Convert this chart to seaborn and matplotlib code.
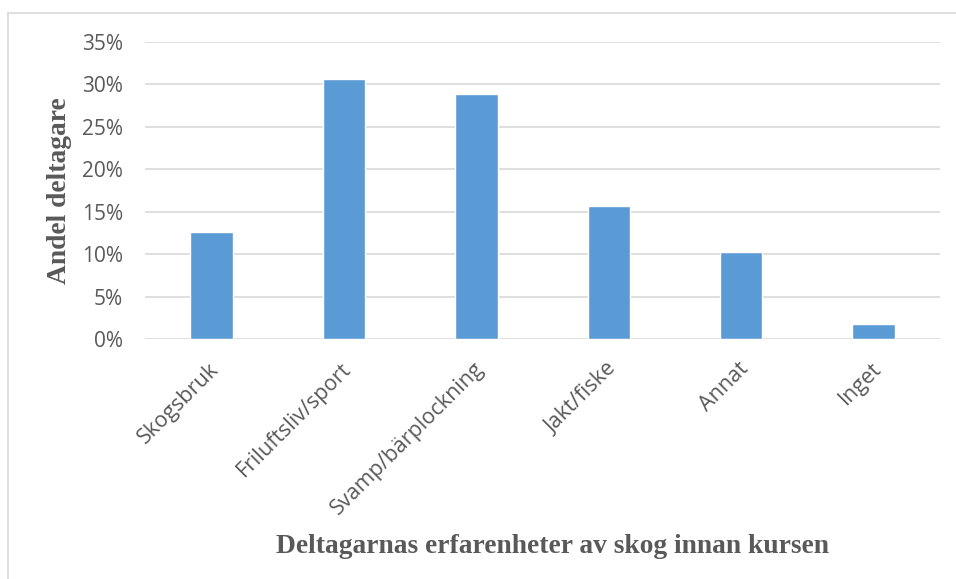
import pandas as pd
import matplotlib.pyplot as plt
import matplotlib.transforms as mtransforms
import seaborn as sns
from matplotlib.patches import Rectangle
from matplotlib.ticker import PercentFormatter

# data
kategorier = ['Skogsbruk', 'Friluftsliv/sport', 'Svamp/bärplockning',
              'Jakt/fiske', 'Annat', 'Inget']
andel = [0.126, 0.306, 0.289, 0.157, 0.102, 0.018]
y_ticks = [0, 0.05, 0.10, 0.15, 0.20, 0.25, 0.30, 0.35]

df = pd.DataFrame({'kategori': kategorier, 'andel': andel})

sns.set_style('white')
plt.rcParams['font.family'] = ['Open Sans', 'DejaVu Sans']

fig = plt.figure(figsize=(9.56, 5.79), dpi=100)
ax = fig.add_axes([0.152, 0.4145, 0.831, 0.513])

sns.barplot(data=df, x='kategori', y='andel', color='#5B9BD5',
            width=0.32, saturation=1, ax=ax, zorder=3)

ax.set_ylim(0, 0.35)
ax.set_xlim(-0.5, 5.5)
ax.set_yticks(y_ticks)
ax.yaxis.set_major_formatter(PercentFormatter(1.0, decimals=0))
ax.grid(axis='y', color='#d9d9d9', linewidth=1.2, zorder=0)
ax.set_axisbelow(True)
sns.despine(ax=ax, left=True, bottom=True)
ax.tick_params(axis='both', length=0, colors='#595959', labelsize=15)
ax.tick_params(axis='x', labelsize=15.5, pad=14)
ax.tick_params(axis='y', pad=16)
offset = mtransforms.ScaledTranslation(-3 / 100, 0, fig.dpi_scale_trans)
for lbl in ax.get_xticklabels():
    lbl.set_rotation(45)
    lbl.set_ha('right')
    lbl.set_rotation_mode('anchor')
    lbl.set_transform(lbl.get_transform() + offset)

ax.set_xlabel('Deltagarnas erfarenheter av skog innan kursen',
              fontfamily='Liberation Serif', fontweight='bold',
              fontsize=19.8, color='#595959')
ax.xaxis.set_label_coords(0.512, -0.655)
ax.set_ylabel('Andel deltagare', fontfamily='Liberation Serif',
              fontweight='bold', fontsize=19.8, color='#595959')
ax.yaxis.set_label_coords(-0.092, 0.5)

# outer chart border
fig.add_artist(Rectangle((0.0084, -0.01), 1.1, 0.9875, transform=fig.transFigure,
                         fill=False, edgecolor='#d9d9d9', linewidth=1.2))

fig.savefig('out.png', dpi=100)
